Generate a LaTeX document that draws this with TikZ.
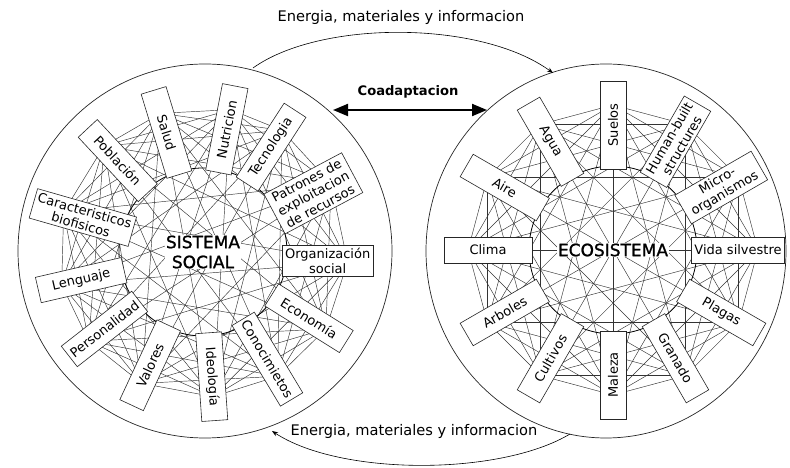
\documentclass[tikz,border=0pt]{standalone}
\usepackage{fontspec}
\setmainfont{DejaVu Sans}
\newfontfamily\hubfont[FakeBold=1.2]{DejaVu Sans}
\usetikzlibrary{arrows.meta,calc}
\begin{document}
\begin{tikzpicture}[x=1pt,y=1pt,
  box/.style={draw=black!85, line width=0.6pt, fill=white, minimum width=88, minimum height=26, inner sep=3pt, align=center, font=\fontsize{13}{14.5}\selectfont},
  web/.style={black!80, line width=0.45pt},
  hub/.style={fill=white, inner sep=1pt, align=center, font=\hubfont\fontsize{17}{20}\selectfont},
  ring/.style={draw=black!85, line width=0.7pt},
  inner/.style={draw=black, line width=0.8pt},
  lbl/.style={font=\fontsize{14.6}{17}\selectfont},
  flow/.style={line width=0.6pt, -{Stealth[length=6pt,width=4.5pt]}},
  coad/.style={line width=2pt, {Triangle[length=15pt,width=12pt]}-{Triangle[length=15pt,width=12pt]}}]
\useasboundingbox (0,0) rectangle (790,468);

% centres
\coordinate (Lo) at (205,217);
\coordinate (Lc) at (203,216);
\coordinate (Ro) at (606,217);
\coordinate (Rc) at (613,218);

% outer rings
\draw[ring] (Lo) circle[radius=187];
\draw[ring] (Ro) ellipse[x radius=180, y radius=187];

% web points and complete graphs
\foreach \a [count=\i] in {79,107,133,164,193,218,245,274,301,328,356,28,57}
  \coordinate (Lp\i) at ($(Lc)+(\a:145)$);
\foreach \i in {1,...,13}{
  \foreach \j in {1,...,13}{
    \ifnum\i<\j \draw[web] (Lp\i) -- (Lp\j); \fi
  }
}
\foreach \a [count=\i] in {90,60,30,0,-30,-60,-90,-120,-150,180,150,120}
  \coordinate (Rp\i) at ($(Rc)+(\a:145)$);
\foreach \i in {1,...,12}{
  \foreach \j in {1,...,12}{
    \ifnum\i<\j \draw[web] (Rp\i) -- (Rp\j); \fi
  }
}

% inner circles
\draw[inner] (Lc) circle[radius=84];
\draw[inner] (Rc) circle[radius=84];

% hubs
\node[hub] (LS) at (Lc) {SISTEMA\\SOCIAL};
\node[hub] (RS) at (Rc) {ECOSISTEMA};

% left boxes
\node[box, rotate=79]  (L1)  at ($(Lc)+(79:125)$)  {Nutricion};
\node[box, rotate=-73] (L2)  at ($(Lc)+(107:125)$) {Salud};
\node[box, rotate=-47] (L3)  at ($(Lc)+(133:125)$) {Población};
\node[box, rotate=-16] (L4)  at ($(Lc)+(164:125)$) {Caracteristicos\\biofisicos};
\node[box, rotate=13]  (L5)  at ($(Lc)+(193:125)$) {Lenguaje};
\node[box, rotate=38]  (L6)  at ($(Lc)+(218:125)$) {Personalidad};
\node[box, rotate=65]  (L7)  at ($(Lc)+(245:125)$) {Valores};
\node[box, rotate=-86] (L8)  at ($(Lc)+(274:125)$) {Ideología};
\node[box, rotate=-59] (L9)  at ($(Lc)+(301:125)$) {Conocimietos};
\node[box, rotate=-32] (L10) at ($(Lc)+(328:125)$) {Economía};
\node[box, rotate=0]   (L11) at ($(Lc)+(356:125)$) {Organización\\social};
\node[box, rotate=28]  (L12) at ($(Lc)+(28:125)$)  {Patrones de\\exploitacion\\de recursos};
\node[box, rotate=57]  (L13) at ($(Lc)+(57:125)$)  {Tecnologia};

% right boxes
\node[box, rotate=90]  (R1)  at ($(Rc)+(90:125)$)   {Suelos};
\node[box, rotate=60]  (R2)  at ($(Rc)+(60:125)$)   {Human-built\\structures};
\node[box, rotate=30]  (R3)  at ($(Rc)+(30:125)$)   {Micro-\\organismos};
\node[box, rotate=0]   (R4)  at ($(Rc)+(0:125)$)    {Vida silvestre};
\node[box, rotate=-30] (R5)  at ($(Rc)+(-30:125)$)  {Plagas};
\node[box, rotate=-60] (R6)  at ($(Rc)+(-60:125)$)  {Granado};
\node[box, rotate=90]  (R7)  at ($(Rc)+(-90:125)$)  {Maleza};
\node[box, rotate=60]  (R8)  at ($(Rc)+(-120:125)$) {Cultivos};
\node[box, rotate=30]  (R9)  at ($(Rc)+(-150:125)$) {Arboles};
\node[box, rotate=0]   (R10) at ($(Rc)+(180:125)$)  {Clima};
\node[box, rotate=-30] (R11) at ($(Rc)+(150:125)$)  {Aire};
\node[box, rotate=-60] (R12) at ($(Rc)+(120:125)$)  {Agua};

% coadaptation
\coordinate (coL) at (333,358);
\coordinate (coR) at (487,358);
\draw[coad] (coL) -- (coR);
\node[font=\bfseries\fontsize{13.1}{15}\selectfont] (coadlbl) at (408,376) {Coadaptacion};

% flows
\coordinate (t1) at (253,400);
\coordinate (t2) at (553,395);
\draw[flow] (t1) .. controls (320,448) and (480,448) .. (t2);
\node[lbl] (toplbl) at (401,451) {Energia, materiales y informacion};

\coordinate (b1) at (570,34);
\coordinate (b2) at (272,37);
\draw[flow] (b1) .. controls (500,-8) and (340,-8) .. (b2);
\node[lbl] (botlbl) at (414,37) {Energia, materiales y informacion};
\end{tikzpicture}
\end{document}
